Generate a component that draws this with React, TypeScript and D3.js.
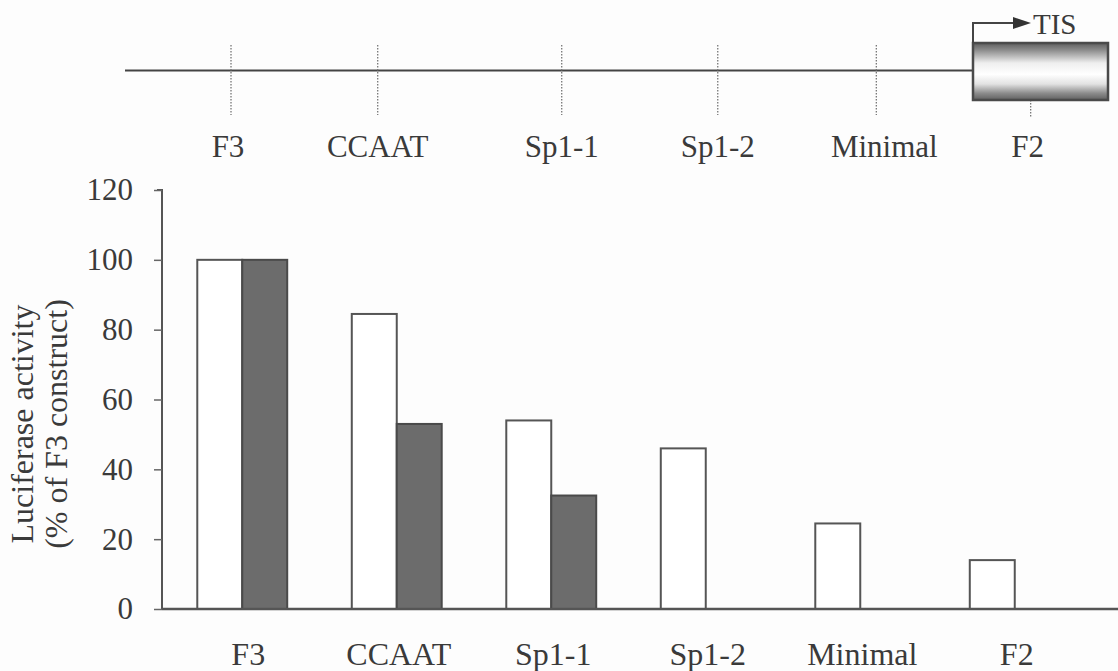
import { useRef, useEffect } from "react";
import * as d3 from "d3";

// Constructs (5' deletions) and measured luciferase activity
const constructs = ["F3", "CCAAT", "Sp1-1", "Sp1-2", "Minimal", "F2"];
const seriesNames = ["open", "filled"];
const openValues = [100, 84.5, 54, 46, 24.5, 14];
const filledValues = [100, 53, 32.5, null, null, null];
const yTicks = [0, 20, 40, 60, 80, 100, 120];

// Schematic promoter: relative position of each deletion end point (0 = far 5', 1 = TIS)
const sitePositions = [0.125, 0.298, 0.515, 0.699, 0.886, 1.068];

export default function App() {
  const ref = useRef<SVGSVGElement>(null);

  const chartAttr = {
    width: 1118,
    height: 671,
    left: 162,
    top: 190,
    bottom: 609,
    font: "'Liberation Serif', 'Times New Roman', serif",
    ink: "#3a3a3a"
  };

  useEffect(() => {
    document.body.style.margin = "0";
    const svg = d3.select(ref.current);
    svg.selectAll("*").remove();

    const yScale = d3.scaleLinear().domain([0, 120]).range([chartAttr.bottom, chartAttr.top]);

    const xBand = d3.scaleBand<string>()
      .domain(constructs)
      .range([165, 1092])
      .padding(0);

    const inner = d3.scaleBand<string>()
      .domain(seriesNames)
      .range([0, xBand.bandwidth()])
      .paddingInner(0)
      .paddingOuter(0.718);

    // ---------- promoter schematic on top ----------
    const siteX = d3.scaleLinear().domain([0, 1]).range([125, 973]);
    const lineY = 70.5;

    const defs = svg.append("defs");
    const grad = defs.append("linearGradient")
      .attr("id", "exonGrad")
      .attr("x1", 0).attr("y1", 0).attr("x2", 0).attr("y2", 1);
    [
      [0, "#5e5e5e"], [0.12, "#8a8a8a"], [0.35, "#eeeeee"], [0.55, "#ffffff"],
      [0.72, "#e2e2e2"], [0.88, "#8c8c8c"], [1, "#606060"]
    ].forEach(([o, c]) => grad.append("stop").attr("offset", o as number).attr("stop-color", c as string));

    svg.append("line")
      .attr("x1", siteX(0)).attr("x2", siteX(1))
      .attr("y1", lineY).attr("y2", lineY)
      .attr("stroke", "#444").attr("stroke-width", 2);

    svg.selectAll(".site")
      .data(sitePositions)
      .enter()
      .append("line")
      .attr("class", "site")
      .attr("x1", d => siteX(d)).attr("x2", d => siteX(d))
      .attr("y1", (d, i) => (i === constructs.length - 1 ? 100 : 45))
      .attr("y2", (d, i) => (i === constructs.length - 1 ? 118 : 115))
      .attr("stroke", "#777")
      .attr("stroke-width", 1.3)
      .attr("stroke-dasharray", "1.5,1.5");

    // exon box
    svg.append("rect")
      .attr("x", siteX(1)).attr("y", 43)
      .attr("width", 1108 - siteX(1)).attr("height", 57)
      .attr("fill", "url(#exonGrad)")
      .attr("stroke", "#4a4a4a").attr("stroke-width", 2.5);

    // TIS arrow
    svg.append("path")
      .attr("d", `M${siteX(1)},43 V23 H1014`)
      .attr("fill", "none").attr("stroke", "#444").attr("stroke-width", 2);
    svg.append("path")
      .attr("d", "M1013,17 L1031,23 L1013,29 Z")
      .attr("fill", "#333");
    svg.append("text")
      .attr("x", 1033).attr("y", 34)
      .attr("font-family", chartAttr.font).attr("font-size", 29)
      .attr("fill", chartAttr.ink)
      .text("TIS");

    svg.selectAll(".siteLabel")
      .data(constructs)
      .enter()
      .append("text")
      .attr("class", "siteLabel")
      .attr("x", (d, i) => siteX(sitePositions[i]) + (d === "Minimal" ? 8 : d === "F2" ? -3 : d === "F3" ? -3 : 0))
      .attr("y", 157)
      .attr("text-anchor", "middle")
      .attr("font-family", chartAttr.font).attr("font-size", 31)
      .attr("fill", chartAttr.ink)
      .text(d => d);

    // ---------- bar chart ----------
    const plot = svg.append("g");

    const rows = constructs.map((c, i) => ({ c, open: openValues[i], filled: filledValues[i] }));

    const group = plot.selectAll(".grp")
      .data(rows)
      .enter()
      .append("g")
      .attr("class", "grp")
      .attr("transform", d => `translate(${xBand(d.c)},0)`);

    group.append("rect")
      .attr("x", inner("open")!)
      .attr("y", d => yScale(d.open))
      .attr("width", inner.bandwidth())
      .attr("height", d => yScale(0) - yScale(d.open))
      .attr("fill", "#ffffff")
      .attr("stroke", "#555").attr("stroke-width", 2);

    group.filter(d => d.filled !== null)
      .append("rect")
      .attr("x", inner("filled")!)
      .attr("y", d => yScale(d.filled as number))
      .attr("width", inner.bandwidth())
      .attr("height", d => yScale(0) - yScale(d.filled as number))
      .attr("fill", "#6c6c6c")
      .attr("stroke", "#4a4a4a").attr("stroke-width", 2);

    // y axis
    const yAxis = d3.axisLeft(yScale).tickValues(yTicks).tickSize(8).tickPadding(21);
    const yG = svg.append("g")
      .attr("transform", `translate(${chartAttr.left},0)`)
      .call(yAxis);
    yG.select(".domain").attr("stroke", "#555").attr("stroke-width", 2)
      .attr("d", `M-5,${chartAttr.top}H0V${chartAttr.bottom}`);
    yG.selectAll(".tick line").attr("stroke", "#666").attr("stroke-width", 1.5);
    yG.selectAll(".tick text")
      .attr("font-family", chartAttr.font).attr("font-size", 31)
      .attr("fill", chartAttr.ink);
    yG.attr("font-size", null).attr("font-family", null);

    // x axis
    svg.append("line")
      .attr("x1", chartAttr.left).attr("x2", chartAttr.width)
      .attr("y1", chartAttr.bottom).attr("y2", chartAttr.bottom)
      .attr("stroke", "#555").attr("stroke-width", 2.5);

    svg.selectAll(".catLabel")
      .data(constructs)
      .enter()
      .append("text")
      .attr("class", "catLabel")
      .attr("x", d => (xBand(d) as number) + xBand.bandwidth() / 2 + (d === "F3" ? 6 : 2))
      .attr("y", 665)
      .attr("text-anchor", "middle")
      .attr("font-family", chartAttr.font).attr("font-size", 32)
      .attr("fill", chartAttr.ink)
      .text(d => d);

    // y axis title
    const title = svg.append("text")
      .attr("transform", `translate(0, 424) rotate(-90)`)
      .attr("text-anchor", "middle")
      .attr("font-family", chartAttr.font).attr("font-size", 32)
      .attr("fill", chartAttr.ink);
    title.append("tspan").attr("x", 0).attr("y", 33).text("Luciferase activity");
    title.append("tspan").attr("x", 0).attr("y", 67).text("(% of F3 construct)");
  }, []);

  return (
    <div>
      <svg ref={ref} width={chartAttr.width} height={chartAttr.height}
        style={{ display: "block", background: "#fdfdfd" }} />
    </div>
  );
}
